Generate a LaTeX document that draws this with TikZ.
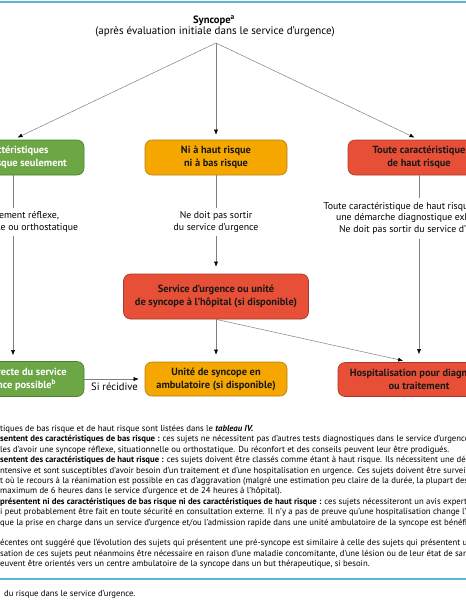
\documentclass[tikz,border=0pt]{standalone}
\usepackage{fontspec}
\setmainfont{PT Sans}
\usetikzlibrary{arrows.meta, positioning, backgrounds}
\definecolor{lowgreen}{HTML}{6CA645}
\definecolor{lowgreendark}{HTML}{4F7F2C}
\definecolor{midorange}{HTML}{F5A700}
\definecolor{midorangedark}{HTML}{B08214}
\definecolor{highred}{HTML}{E84F37}
\definecolor{highreddark}{HTML}{A63A2A}
\definecolor{rulecyan}{HTML}{5BB7D8}
\definecolor{flowgray}{HTML}{808080}

\begin{document}
\begin{tikzpicture}[x=1pt, y=-1pt,
    font=\fontsize{10}{12}\selectfont,
    riskbox/.style={rounded corners=7pt, minimum width=142pt, minimum height=35pt,
        align=center, font=\fontsize{10.4}{12.8}\selectfont\bfseries, line width=0.6pt, inner sep=2pt},
    lowbox/.style={riskbox, draw=lowgreendark, fill=lowgreen, text=white},
    midbox/.style={riskbox, draw=midorangedark, fill=midorange, text=black!90},
    highbox/.style={riskbox, draw=highreddark, fill=highred, text=black!90},
    steptxt/.style={align=center, fill=white, inner sep=3pt, font=\fontsize{9.8}{11.6}\selectfont},
    flow/.style={-{Latex[length=5pt, width=4pt, color=black]}, line width=0.5pt, draw=flowgray, shorten >=6pt},
    plainline/.style={line width=0.5pt, draw=flowgray},
    note/.style={anchor=base west, inner sep=0pt, font=\fontsize{8.7}{10}\selectfont},
    rule/.style={line width=2.2pt, draw=rulecyan}
]
\useasboundingbox (0,0) rectangle (466,600);
\clip (0,0) rectangle (466,600);
\fill[white] (0,0) rectangle (466,600);

% =====================================================
% TITLE
% =====================================================
\draw[rule] (0,2) -- (466,2);
\node[font=\fontsize{10.6}{12}\selectfont\bfseries] (syn) at (214,20.5) {Syncope\textsuperscript{a}};
\node[font=\fontsize{11}{12}\selectfont] (synsub) at (215,32) {(après évaluation initiale dans le service d’urgence)};
\coordinate (src) at (216,43);

% =====================================================
% FIRST ROW: RISK CATEGORIES
% =====================================================
\node[lowbox]  (lowrisk)  at (13,157.5)  {Caractéristiques\\de bas risque seulement};
\node[midbox]  (midrisk)  at (216,157.5) {Ni à haut risque\\ni à bas risque};
\node[highbox] (highrisk) at (419,157.5) {Toute caractéristique\\de haut risque};

\draw[flow, shorten >=5pt] (src) -- (lowrisk.north);
\draw[flow, shorten >=5pt] (src) -- (midrisk.north);
\draw[flow, shorten >=5pt] (src) -- (highrisk.north);

% Labels on the vertical flows
\node[steptxt] (lowtxt)  at (13,222)    {Probablement réflexe,\\situationnelle ou orthostatique};
\node[steptxt] (midtxt)  at (216,222)   {Ne doit pas sortir\\du service d’urgence};
\node[steptxt, inner sep=4pt] (hightxt) at (419,218.5) {Toute caractéristique de haut risque nécessite\\une démarche diagnostique exhaustive.\\Ne doit pas sortir du service d’urgence};

% =====================================================
% SECOND ROW: EMERGENCY DEPARTMENT
% =====================================================
\node[highbox, minimum width=185pt, minimum height=45pt] (service) at (216,296.5) {Service d’urgence ou unité\\de syncope à l’hôpital (si disponible)};
\coordinate (svcin) at (225,267);

\draw[plainline] (midrisk.south) -- (midtxt.north);
\draw[flow, shorten >=7pt] (midtxt.south) -- (service.north);
\begin{scope}[on background layer]
    \draw[flow, shorten >=0pt] ([xshift=-4pt]highrisk.south) -- (svcin);
\end{scope}

% =====================================================
% THIRD ROW: OUTCOMES
% =====================================================
\node[lowbox]  (discharge) at (13,379)  {Sortie directe du service\\d’urgence possible\textsuperscript{b}};
\node[midbox, minimum height=34pt]  (ambul) at (216,379) {Unité de syncope en\\ambulatoire (si disponible)};
\node[highbox, minimum width=162pt, minimum height=34pt] (hosp) at (419,379.5) {Hospitalisation pour diagnostic\\ou traitement};

\draw[plainline] (lowrisk.south) -- (lowtxt.north);
\draw[flow] (lowtxt.south) -- (discharge.north);
\draw[plainline] (highrisk.south) -- (hightxt.north);
\draw[flow, shorten >=8pt] (hightxt.south) -- (hosp.north);
\draw[flow, shorten >=7pt] (service.south) -- (ambul.north);
\draw[flow, shorten >=7pt] (service.south) -- ([xshift=-9pt]hosp.north);
\draw[flow] (discharge.east) -- node[below=0.5pt, font=\fontsize{10.6}{12}\selectfont] (recid) {Si récidive} (ambul.west);

% =====================================================
% FOOTNOTES
% =====================================================
\node[note] (n1)  at (0,431)   {tiques de bas risque et de haut risque sont listées dans le \textbf{\textit{tableau IV.}}};
\node[note] (n2)  at (0,441.5) {\textbf{sentent des caractéristiques de bas risque :} ces sujets ne nécessitent pas d’autres tests diagnostiques dans le service d’urgence puisqu’ils sont};
\node[note] (n3)  at (0,452)   {les d’avoir une syncope réflexe, situationnelle ou orthostatique. Du réconfort et des conseils peuvent leur être prodigués.};
\node[note] (n4)  at (0,462.5) {\textbf{sentent des caractéristiques de haut risque :} ces sujets doivent être classés comme étant à haut risque. Ils nécessitent une démarche};
\node[note] (n5)  at (0,473)   {ntensive et sont susceptibles d’avoir besoin d’un traitement et d’une hospitalisation en urgence. Ces sujets doivent être surveillés dans};
\node[note] (n6)  at (0,483)   {t où le recours à la réanimation est possible en cas d’aggravation (malgré une estimation peu claire de la durée, la plupart des études};
\node[note] (n7)  at (0,493.5) {maximum de 6 heures dans le service d’urgence et de 24 heures à l’hôpital).};
\node[note] (n8)  at (0,504)   {\textbf{présentent ni des caractéristiques de bas risque ni des caractéristiques de haut risque :} ces sujets nécessiteront un avis expert};
\node[note] (n9)  at (0,514.5) {i peut probablement être fait en toute sécurité en consultation externe. Il n’y a pas de preuve qu’une hospitalisation change l’évolution};
\node[note] (n10) at (0,525)   {que la prise en charge dans un service d’urgence et/ou l’admission rapide dans une unité ambulatoire de la syncope est bénéfique.};
\node[note] (n11) at (0,545.5) {écentes ont suggéré que l’évolution des sujets qui présentent une pré-syncope est similaire à celle des sujets qui présentent une syncope.};
\node[note] (n12) at (0,556)   {sation de ces sujets peut néanmoins être nécessaire en raison d’une maladie concomitante, d’une lésion ou de leur état de santé.};
\node[note] (n13) at (0,566.5) {euvent être orientés vers un centre ambulatoire de la syncope dans un but thérapeutique, si besoin.};

\draw[rule] (0,579) -- (466,579);
\node[note] (caption) at (4,596) {du risque dans le service d’urgence.};

\end{tikzpicture}
\end{document}
